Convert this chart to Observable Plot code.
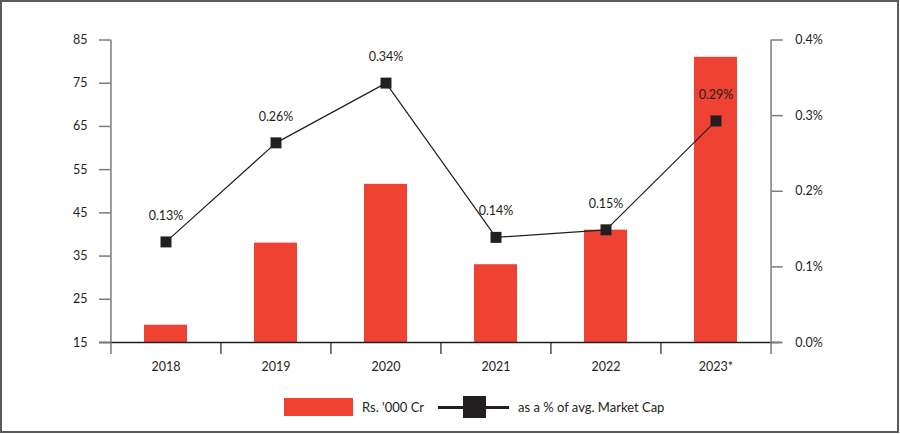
<!DOCTYPE html>
<html>
<head>
<meta charset="utf-8">
<script src="https://cdn.jsdelivr.net/npm/d3@7"></script>
<script src="https://cdn.jsdelivr.net/npm/@observablehq/plot@0.6"></script>
<style>
  html, body { margin: 0; padding: 0; background: #fff; }
  #wrap { position: relative; width: 900px; height: 434px; font-family: "Lato", "Open Sans", sans-serif; color: #231f20; }
  #frame { position: absolute; left: 0; top: 0; width: 899px; height: 433px; box-sizing: border-box; border: 2px solid #5a5a5a; pointer-events: none; }
  #chart { position: absolute; left: 0; top: 0; }
  .lg { position: absolute; }
  .lgtext { position: absolute; font-size: 13px; line-height: 18px; top: 398px; white-space: nowrap; }
</style>
</head>
<body>
<div id="wrap">
  <div id="chart"></div>
  <div class="lg" style="left:284px; top:398px; width:69px; height:18px; background:#ee4232;"></div>
  <div class="lgtext" id="lgBar" style="left:362px;"></div>
  <div class="lg" style="left:438px; top:406px; width:71px; height:3px; background:#231f20;"></div>
  <div class="lg" style="left:463px; top:396px; width:23px; height:22px; background:#231f20;"></div>
  <div class="lgtext" id="lgLine" style="left:518px;"></div>
  <div id="frame"></div>
</div>
<script>
// ---- data ----
const years = ["2018", "2019", "2020", "2021", "2022", "2023*"];
const amountCr = [19, 38, 51.6, 33, 41, 81];            // Rs. '000 Cr
const pctMarketCap = [0.133, 0.264, 0.343, 0.139, 0.149, 0.293]; // % of avg. Market Cap
const leftTicks = [15, 25, 35, 45, 55, 65, 75, 85];
const rightTicks = [0, 0.1, 0.2, 0.3, 0.4];
const seriesNames = ["Rs. '000 Cr", "as a % of avg. Market Cap"];

document.getElementById("lgBar").textContent = seriesNames[0];
document.getElementById("lgLine").textContent = seriesNames[1];

const rows = years.map((y, i) => ({year: y, amount: amountCr[i], pct: pctMarketCap[i]}));

// right axis (percent) mapped onto left scale: 0% -> 15, 0.4% -> 85
const yMin = 15, yMax = 85, pMax = 0.4;
const toLeft = p => yMin + (p / pMax) * (yMax - yMin);

const W = 900, H = 434;
const mL = 110, mR = 129.3, mT = 39.5, mB = 92;
const step = (W - mL - mR) / years.length;
const ink = "#231f20", gray = "#7a7a7a", red = "#ee4232";

const chart = Plot.plot({
  width: W,
  height: H,
  marginLeft: mL,
  marginRight: mR,
  marginTop: mT,
  marginBottom: mB,
  style: {fontFamily: "Lato, 'Open Sans', sans-serif", fontSize: "12.5px", color: ink, background: "transparent"},
  x: {type: "band", domain: years, paddingInner: 0.61, paddingOuter: 0.305},
  y: {domain: [yMin, yMax]},
  marks: [
    Plot.barY(rows, {x: "year", y1: yMin, y2: "amount", fill: red}),
    // baseline
    Plot.ruleY([yMin], {stroke: ink, strokeWidth: 1.3, insetLeft: -11, insetRight: -10}),
    // left & right axis lines
    Plot.ruleX([years[0]], {x: d => d, dx: -step / 2, y1: yMax, y2: yMin, insetBottom: -12, stroke: gray, strokeWidth: 1.5}),
    Plot.ruleX([years[years.length - 1]], {x: d => d, dx: step / 2, y1: yMax, y2: yMin, insetBottom: -12, stroke: gray, strokeWidth: 1.5}),
    // category boundary ticks
    Plot.ruleX(years.slice(1), {x: d => d, dx: -step / 2, y1: yMin, y2: yMin, insetBottom: -12, stroke: ink, strokeWidth: 1.2}),
    Plot.axisX({tickSize: 0, tickPadding: 20, fontSize: 12.5, label: null}),
    Plot.axisY({anchor: "left", ticks: leftTicks, tickSize: 11, tickPadding: 12, stroke: gray, strokeWidth: 1.5, fontSize: 12.5, label: null}),
    Plot.axisY({anchor: "right", ticks: rightTicks.map(toLeft), tickFormat: v => ((v - yMin) / (yMax - yMin) * pMax).toFixed(1) + "%", tickSize: 11, tickPadding: 13, stroke: gray, strokeWidth: 1.5, fontSize: 12.5, label: null}),
    // line series
    Plot.line(rows, {x: "year", y: d => toLeft(d.pct), stroke: ink, strokeWidth: 1.2}),
    Plot.dot(rows, {x: "year", y: d => toLeft(d.pct), symbol: "square", r: 6.2, fill: ink, stroke: null}),
    Plot.text(rows, {x: "year", y: d => toLeft(d.pct), text: d => d.pct.toFixed(2) + "%", dy: -26, fill: ink, fontSize: 12.5})
  ]
});
document.getElementById("chart").appendChild(chart);
</script>
</body>
</html>
